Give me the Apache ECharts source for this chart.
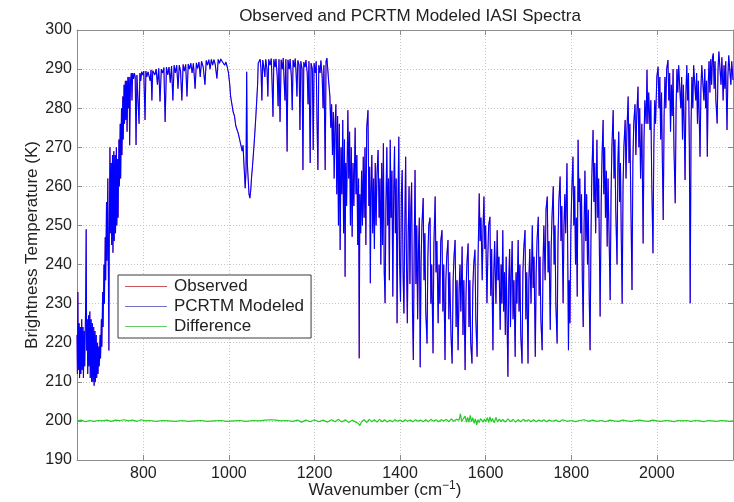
<!DOCTYPE html>
<html>
<head>
<meta charset="utf-8">
<title>Observed and PCRTM Modeled IASI Spectra</title>
<script src="https://cdn.jsdelivr.net/npm/echarts@6/dist/echarts.min.js"></script>
<style>
  html, body { margin: 0; padding: 0; background: #fff; }
  #chart { width: 734px; height: 502px; }
</style>
</head>
<body>
<div id="chart"></div>
<script>
// Brightness temperature spectrum [wavenumber cm^-1, K], split by spectral region.
const co2Band15um = [
  [645,222],[646,212],[647,233],[648,213],[650,225],[651,211],[653,224],[654,212],[656,226],[657,213],
  [659,224],[660,211],[662,223],[663,214],[665,228],[666.5,249],[667.5,218],[669,226],[670,212],[672,227],
  [673,214],[675,228],[676,211],[678,226],[679,210],[681,225],[682,210],[684,224],[685,209],[687,223],
  [688,210],[690,222],[691,211],[693,220],[694,212],[696,219],[697,214],[699,222],[700,216],[702,226],
  [703,219],[705,233],[706,224],[708,240],[709,230],[711,247],[712,236],[714,256],[715,241],[717,262],
  [718,244],[719.5,218],[720.5,247],[722,270],[723,248],[725,266],[726,245],[728,268],[729,243],[731,269],
  [732,246],[734,268],[735,248],[737,270],[738,250],[740,267],[741,252],[743,272],[744,260],[746,276],
  [747,262],[749,280],[750,268],[752,283],[753,272],[755,286],[756,276],[758,287],[759,277],[761,287],
  [762,274],[764,288],[765,280],[767,288],[768,270.5]
];
const longwaveWindow = [
  [770,287],[772,289],[773.5,282],[775,289],[777,287.5],[779,289],[781,288],[783,270.6],[785,288.5],[787,289],
  [790,276],[792,289],[794,287],[796,289.3],[799,288.5],[801,289.5],[804,277],[806,289.5],[808,288],[811,289.3],
  [813,289.8],[816,287],[818,289.8],[820,282],[822,289.6],[825,290],[827,288.5],[830,290],[833,286],[836,290.2],
  [839,281.7],[842,290],[845,289],[848,290.4],[851,276.5],[854,290.5],[857,288.5],[860,290.5],[863,286.5],[866,290.8],
  [869,282],[872,291],[875,289],[878,291],[881,285],[884,291],[887,289.5],[890,282],[893,291.2],[896,289.5],
  [899,291.2],[902,283],[905,291.3],[908,290],[911,291.5],[914,289],[917,291.5],[921,285],[924,291.6],[927,290.2],
  [930,291.8],[933,288],[936,292],[940,290.5],[944,286],[947,292.2],[950,291],[953,292.4],[956,290],[959,292.5],
  [962,291],[965,292.4],[968,291.2],[972,287.6],[975,292.5],[978,291.5],[981,292.6],[984,292],[987,292.4],[990,291],
  [993,291.8],[996,290.6]
];
const ozoneBand = [
  [999,289],[1002,286],[1004,283],[1007,281],[1010,279],[1013,278],[1016,275.5],[1019,276],[1022,273.5],[1025,272],
  [1028,272.5],[1031,269],[1033,270.5],[1035,266],[1037,262],[1038,259.5],[1040,264],[1041.5,289.3],[1043,266],[1045,262],
  [1047,258],[1049,257],[1051,259],[1053,262.5],[1055,265],[1057,268],[1059,271],[1061,274.4],[1063,278],[1065,282],
  [1067,286],[1068.5,291.5]
];
const midWindow = [
  [1070,292],[1073,292.5],[1075,290],[1077,282],[1079,292.3],[1081,291],[1084,288],[1086,292.5],[1089,290],[1091,283],
  [1093,292.5],[1096,291],[1099,292.7],[1101,286],[1103,277.8],[1105,292.5],[1108,290.5],[1110,292.6],[1113,288],[1115,280.5],
  [1117,292.5],[1119.5,276.5],[1122,292.4],[1125,290],[1127,292.8],[1129,287],[1131,282],[1133,292.5],[1136,268.9],[1138,292.4],
  [1141,290],[1143,292.6],[1146,288],[1148,279.5],[1150,292.3],[1153,290.5],[1155,292.7],[1157,289],[1159,283],[1161,292.2],
  [1164,291],[1166,274.4],[1168,292],[1171,290],[1173,264.2],[1175,291.8],[1178,290.5],[1180,292.3],[1183,289],[1185,281],
  [1187,292],[1190,266],[1192,291.5],[1195,290],[1197,269.3],[1199,291.5],[1202,289],[1204,292],[1206,276],[1208,264.2],
  [1210,291],[1213,289],[1215,292.2],[1218,288],[1220,280],[1222,291],[1225,264.2],[1227,292],[1229,292.8],[1231,290],
  [1233,287],[1236,283],[1238,275],[1240,281],[1242,268],[1244,279],[1246,262],[1248,276]
];
const waterBandLow = [
  [1250,281],[1252,258],[1254,278],[1256,250],[1258,276],[1260,243.7],[1262,270],[1264,258],[1266,277],[1268,248],
  [1270,272],[1271.5,236.9],[1273,266],[1275,255],[1278,279.5],[1280,262],[1282,274],[1284,250],[1286,270],[1288,247.1],
  [1290,266],[1292,255],[1295,275],[1297,258],[1299,268],[1301,245],[1303,262],[1304.5,216],[1306,258],[1308,248],
  [1310,264],[1312,250],[1314,267.6],[1316,252],[1318,270],[1320,245],[1322,275],[1325,279.5],[1327,255],[1329,265],
  [1330.5,235.2],[1332,258],[1334,268],[1336,248],[1338,262],[1340,244],[1342,266],[1344,250],[1346,263],[1348.6,269.3],
  [1351,252],[1353,262],[1355,240],[1357,266],[1359,245],[1361,271],[1363,238],[1365,230.1],[1367,256],[1369,270],
  [1371,250],[1373,262],[1375,236],[1377,271.9],[1379,252],[1381,264],[1383,231.8],[1385,258],[1387,270.2],[1389,248],
  [1391,262],[1393,225],[1395,255],[1397,272.7],[1399,240],[1401,230.5],[1403,258],[1405,264.2],[1407,238],[1409,227.5],
  [1411,250],[1413,267.6],[1415,240],[1417,225],[1419,248],[1421,260],[1423,235],[1425,254],[1427,261],[1429,228],
  [1431,215.6],[1433,245],[1435,264.2],[1437,235],[1439,250],[1441,226],[1443,244],[1445,252],[1447,213.7]
];
const waterBandCentre = [
  [1449,240],[1451,250],[1454,257],[1456,236],[1458,248],[1460,228],[1463,219.8],[1465,242],[1467,250],[1470,252],
  [1472,230],[1474,240],[1477,217.3],[1479,245],[1482,257.4],[1484,238],[1486,246],[1489,225],[1491,240],[1493,230],
  [1495,246],[1498,248.8],[1500,228],[1502,240],[1505,215.6],[1507,236],[1509,242],[1512,246.3],[1514,226],[1516,238],
  [1519,222],[1521.6,214.7],[1524,236],[1526,242],[1528.6,246.3],[1531,224],[1533,236],[1535.6,218.1],[1538,234],[1540,240],
  [1542,228],[1545,244.6],[1547,222],[1549,236],[1552,213],[1554,232],[1556,240],[1559,245.4],[1561,224],[1563,236],
  [1565,220],[1568,214.7],[1570,234],[1572,240],[1575,243.8],[1577,226],[1580,216.4],[1582,240],[1585,258.2],[1587,246],
  [1589,252],[1592,236],[1594,250],[1596,257.4],[1598,244],[1600,250],[1603,230.1],
  [1605,242],[1607,250],[1610,252.2],[1612,232],[1614,244],[1617,218.1],[1619,238],[1621,246],[1624,230],[1627,248.8],
  [1629,236],[1631,242],[1634,223.3],[1636,240],[1638,230],[1640,248.8],[1642,228],[1644,238],[1646,222],[1648,242],
  [1650,226],[1652,211.3],[1654,236],[1656,244],[1658,224],[1660,238],[1662,246],[1664,226],[1666,236],[1669,216.4],
  [1671,238],[1673,230],[1676,246.3],[1678,228],[1680,240],[1682,222],[1685,214.7],[1687,238],[1689,244],[1692,248.8],
  [1694,226],[1696,238],[1699,214.7],[1701,236],[1703,244],[1706,230],[1709,250],[1711,234],[1713,242],[1716,216.4],
  [1718,238],[1720,246],[1723,252.2],[1725,232],[1727,242],[1729,226],[1732,218.1],[1734,240],[1736,250],[1739,236],
  [1741,254],[1744,257.4],[1746,238],[1748,246],[1751,223.3],[1753,244],[1755,252],[1758,260],[1760,240],[1762,250],
  [1764,230],[1767,219.8],[1769,246],[1771,256],[1774,262.5],[1776,246],[1778,255],[1781,230.1],[1783,250],[1785,258],
  [1787,248],[1790,265.9],[1792,240],[1793.5,218.1],[1795,236],[1797,225],[1799,248],[1801,258],[1804,267.6],[1806,250],
  [1808,260],[1810,240],[1812,252],[1814,231.8],[1816,271.9],[1818,256]
];
const waterBandHigh = [
  [1820,262],[1822,248],[1824,258],[1826,236],[1828,224],[1830,250],[1832,264],[1834,246],[1836,258],[1838,240],
  [1840,254],[1842,232],[1844,218.1],[1846,246],[1848,262],[1851,274.4],[1853,256],[1855,266],[1857,248],[1860,271.9],
  [1862,252],[1864,262],[1867.5,226.7],[1870,256],[1872,268],[1874.5,277],[1876,258],[1878,270],[1880,252],[1882,264],
  [1884,244.6],[1886,262],[1888,250],[1891,230.9],[1893,258],[1895,270],[1898,279.5],[1900,262],[1902,272],[1904,254],
  [1907,240],[1909,266],[1911,274],[1913,256],[1915,266],[1917,246],[1919,230],[1921,260],[1923,270],[1926,277],
  [1928,262],[1930,274],[1933,283],[1935,266],[1937,276],[1939,258],[1942,233.5],[1944,266],[1946,276],[1949,281],
  [1951,268],[1953,278],[1956,285.5],[1958,270],[1960,280],[1962,262],[1965,276],[1968,245.4],[1970,272],[1972,282],
  [1975,276],[1977,289.8],[1979,276],[1981,284],[1984,274.4],[1986,282],[1988,262],[1991,242.9],[1993,270],[1995,282],
  [1997,276],[2000,288]
];
const co2Band4um = [
  [2003,290.6],[2005,280],[2007,288],[2009,272],[2011,284],[2013,266],[2015,251.4],[2017,278],[2019,288],[2021,280],
  [2023,290],[2026,292.3],[2028,282],[2030,289],[2032,274],[2034,286],[2036,278],[2038,290],[2040,270],[2043,255.7],
  [2045,280],[2047,290],[2049,284],[2051,291],[2054,291.5],[2056,280],[2058,288],[2060,272],[2062,286],[2064,276],
  [2066,261.6],[2068,284],[2070,291],[2072,282],[2074,289],[2076,270],[2078,230.1],[2080,276],[2082,288],[2084,280],
  [2086,291],[2089,291.5],[2091,282],[2093,289],[2095,276],[2097,287],[2099,278],[2101,267.6],[2103,285],[2105,291],
  [2108,290.6],[2110,282],[2112,290],[2114,280],[2116,287],[2118,267.6],[2120,286],[2122,292],[2124,284],[2126,292.5],
  [2128,286],[2130,293],[2132,294],[2134,285],[2136,292],[2138,282],[2141,276.1],[2143,290],[2145,294.5],[2148,294.9],
  [2150,286],[2152,293],[2155,282],[2157,291],[2159,285],[2161,292],[2164,274.4],[2166,288],[2168,293.5],[2171,294],
  [2173,286],[2175,292],[2178,287.2]
];

// Observed minus modeled brightness temperature [wavenumber, K]
const differenceK = [
  [645,0.0],[655,0.2],[665,-0.2],[675,0.1],[685,-0.1],[695,0.1],[705,0.0],[715,0.2],[725,-0.1],[735,0.2],
  [745,0.1],[755,0.3],[765,0.0],[775,0.2],[785,-0.1],[795,0.3],[805,0.0],[815,0.1],[830,-0.1],[845,0.1],
  [860,0.0],[875,-0.1],[890,0.1],[905,-0.1],[920,0.0],[935,0.1],[950,-0.1],[965,0.0],[980,0.1],[995,-0.1],
  [1010,0.0],[1025,0.1],[1040,-0.1],[1055,0.1],[1070,0.0],[1085,0.2],[1100,0.3],[1110,0.2],[1120,0.0],[1135,0.1],
  [1150,-0.1],[1160,0.2],[1170,-0.3],[1180,0.2],[1190,-0.2],[1200,0.3],[1210,-0.2],[1220,0.2],[1230,-0.3],[1240,0.3],
  [1248,-0.2],[1256,0.4],[1264,-0.3],[1272,0.3],[1280,-0.4],[1288,0.2],[1296,-0.3],[1302,-0.6],[1306,-1.2],[1310,-0.2],
  [1316,0.3],[1322,-0.4],[1328,0.4],[1334,-0.2],[1340,0.3],[1346,-0.3],[1352,0.4],[1358,-0.2],[1364,0.3],[1370,-0.3],
  [1376,0.2],[1382,-0.2],[1388,0.3],[1394,-0.1],[1400,0.2],[1406,-0.2],[1412,0.3],[1418,-0.1],[1424,0.2],[1430,-0.2],
  [1436,0.3],[1442,-0.1],[1448,0.2],[1454,-0.2],[1460,0.3],[1466,-0.2],[1472,0.4],[1478,-0.1],[1484,0.3],[1490,-0.2],
  [1496,0.3],[1502,0.0],[1508,0.4],[1514,-0.2],[1520,0.5],[1526,-0.1],[1532,0.4],[1538,0.2],[1541,1.8],[1544,-0.2],
  [1548,0.6],[1552,1.2],[1555,-0.3],[1558,0.9],[1561,-0.4],[1564,1.4],[1567,-0.2],[1570,0.8],[1573,-0.6],[1576,0.5],
  [1579,-1.0],[1582,0.3],[1585,-0.4],[1588,0.6],[1591,0.9],[1594,-0.3],[1597,0.5],[1600,-0.2],[1604,0.8],[1607,-0.4],
  [1610,1.0],[1613,-0.2],[1616,0.6],[1620,-0.5],[1624,0.9],[1628,-0.3],[1632,0.5],[1636,-0.2],[1640,0.4],[1646,-0.3],
  [1652,0.5],[1658,-0.2],[1664,0.4],[1670,-0.3],[1676,0.3],[1682,-0.2],[1688,0.4],[1694,-0.1],[1700,0.3],[1706,-0.2],
  [1712,0.3],[1718,-0.2],[1724,0.2],[1730,-0.1],[1736,0.3],[1742,-0.2],[1748,0.2],[1756,-0.1],[1764,0.2],[1772,-0.2],
  [1780,0.3],[1790,-0.1],[1800,0.1],[1810,-0.2],[1820,0.1],[1830,0.3],[1840,-0.1],[1850,0.2],[1860,-0.1],[1870,0.1],
  [1880,-0.2],[1890,0.2],[1900,0.0],[1910,-0.1],[1920,0.2],[1930,0.0],[1940,-0.1],[1950,0.1],[1960,0.2],[1970,0.0],
  [1980,-0.1],[1990,0.2],[2000,0.0],[2010,-0.1],[2020,0.1],[2030,0.0],[2040,-0.2],[2050,0.1],[2060,0.0],[2070,0.1],
  [2080,-0.1],[2090,0.1],[2100,0.0],[2110,-0.2],[2120,0.1],[2130,0.0],[2140,-0.1],[2150,0.1],[2160,0.0],[2170,-0.1],
  [2178,0.0]
];

// Difference curve is plotted about this baseline
const differenceBaseline = 200;

const xTickValues = [800, 1000, 1200, 1400, 1600, 1800, 2000];
const seriesNames = ['Observed', 'PCRTM Modeled', 'Difference'];

const spectrum = [].concat(co2Band15um, longwaveWindow, ozoneBand, midWindow,
  waterBandLow, waterBandCentre, waterBandHigh, co2Band4um);
const differenceCurve = differenceK.map(p => [p[0], differenceBaseline + p[1]]);

const FONT = 'Liberation Sans, Arial, Helvetica, sans-serif';
const chart = echarts.init(document.getElementById('chart'), null, { renderer: 'canvas' });

const axisLineStyle = { color: '#8c8c8c', width: 1 };
const gridLineStyle = { color: '#c4c4c4', type: [1, 2], width: 1 };
const plainNumber = v => String(v);

chart.setOption({
  animation: false,
  backgroundColor: '#ffffff',
  title: {
    text: 'Observed and PCRTM Modeled IASI Spectra',
    left: 405,
    textAlign: 'center',
    top: 3,
    textStyle: { fontFamily: FONT, fontSize: 17, fontWeight: 'normal', color: '#222' }
  },
  grid: { left: 77, right: 1, top: 30, bottom: 42, containLabel: false, outerBoundsMode: 'none', show: false },
  legend: {
    data: [
      { name: seriesNames[0], itemStyle: { color: '#cc5555' } },
      { name: seriesNames[1], itemStyle: { color: '#7272c8' } },
      { name: seriesNames[2], itemStyle: { color: '#66cc66' } }
    ],
    orient: 'vertical',
    left: 118,
    top: 275,
    icon: 'rect',
    itemWidth: 42,
    itemHeight: 1,
    itemGap: 3,
    padding: [3, 7, 3, 7],
    backgroundColor: '#ffffff',
    borderColor: '#3a3a3a',
    borderWidth: 1,
    borderRadius: 0,
    selectedMode: false,
    textStyle: { fontFamily: FONT, fontSize: 17, color: '#222', lineHeight: 16.5, padding: [0, 0, 0, 2] }
  },
  xAxis: [{
    type: 'value',
    min: 645,
    max: 2178,
    position: 'bottom',
    name: '{n|Wavenumber (cm}{s|−1}{n|)}',
    nameLocation: 'middle',
    nameGap: 20,
    nameMoveOverlap: false,
    nameTextStyle: {
      padding: [0, 40, 0, 0],
      rich: {
        n: { fontFamily: FONT, fontSize: 17, color: '#222', lineHeight: 20 },
        s: { fontFamily: FONT, fontSize: 12, color: '#222', verticalAlign: 'top', lineHeight: 20, padding: [0, 0, 9, 0] }
      }
    },
    axisLine: { show: true, onZero: false, lineStyle: axisLineStyle },
    axisTick: { show: true, inside: true, length: 5, customValues: xTickValues, lineStyle: axisLineStyle },
    axisLabel: { show: true, customValues: xTickValues, formatter: plainNumber, margin: 6, fontFamily: FONT, fontSize: 16, color: '#222' },
    splitLine: { show: true, lineStyle: gridLineStyle }
  }, {
    type: 'value',
    min: 645,
    max: 2178,
    position: 'top',
    axisLine: { show: true, onZero: false, lineStyle: axisLineStyle },
    axisTick: { show: true, inside: true, length: 5, customValues: xTickValues, lineStyle: axisLineStyle },
    axisLabel: { show: false },
    splitLine: { show: false }
  }],
  yAxis: [{
    type: 'value',
    min: 190,
    max: 300,
    interval: 10,
    name: 'Brightness Temperature (K)',
    nameLocation: 'middle',
    nameGap: 36,
    nameMoveOverlap: false,
    nameTextStyle: { fontFamily: FONT, fontSize: 17, color: '#222' },
    axisLine: { show: true, onZero: false, lineStyle: axisLineStyle },
    axisTick: { show: true, inside: true, length: 5, lineStyle: axisLineStyle },
    axisLabel: { margin: 5, formatter: plainNumber, fontFamily: FONT, fontSize: 16, color: '#222' },
    splitLine: { show: true, lineStyle: gridLineStyle }
  }, {
    type: 'value',
    min: 190,
    max: 300,
    interval: 10,
    position: 'right',
    axisLine: { show: true, onZero: false, lineStyle: axisLineStyle },
    axisTick: { show: true, inside: true, length: 5, lineStyle: axisLineStyle },
    axisLabel: { show: false },
    splitLine: { show: false }
  }],
  series: [
    {
      name: seriesNames[0], type: 'line', data: spectrum,
      showSymbol: false, symbol: 'none', sampling: null, z: 2,
      lineStyle: { color: '#ff0000', width: 0.5 }, itemStyle: { color: '#ff0000' }
    },
    {
      name: seriesNames[1], type: 'line', data: spectrum,
      showSymbol: false, symbol: 'none', sampling: null, z: 3,
      lineStyle: { color: '#0000ff', width: 1.1 }, itemStyle: { color: '#0000ff' }
    },
    {
      name: seriesNames[2], type: 'line', data: differenceCurve,
      showSymbol: false, symbol: 'none', sampling: null, z: 4,
      lineStyle: { color: '#22cc22', width: 1.2 }, itemStyle: { color: '#22cc22' }
    }
  ]
});
</script>
</body>
</html>
